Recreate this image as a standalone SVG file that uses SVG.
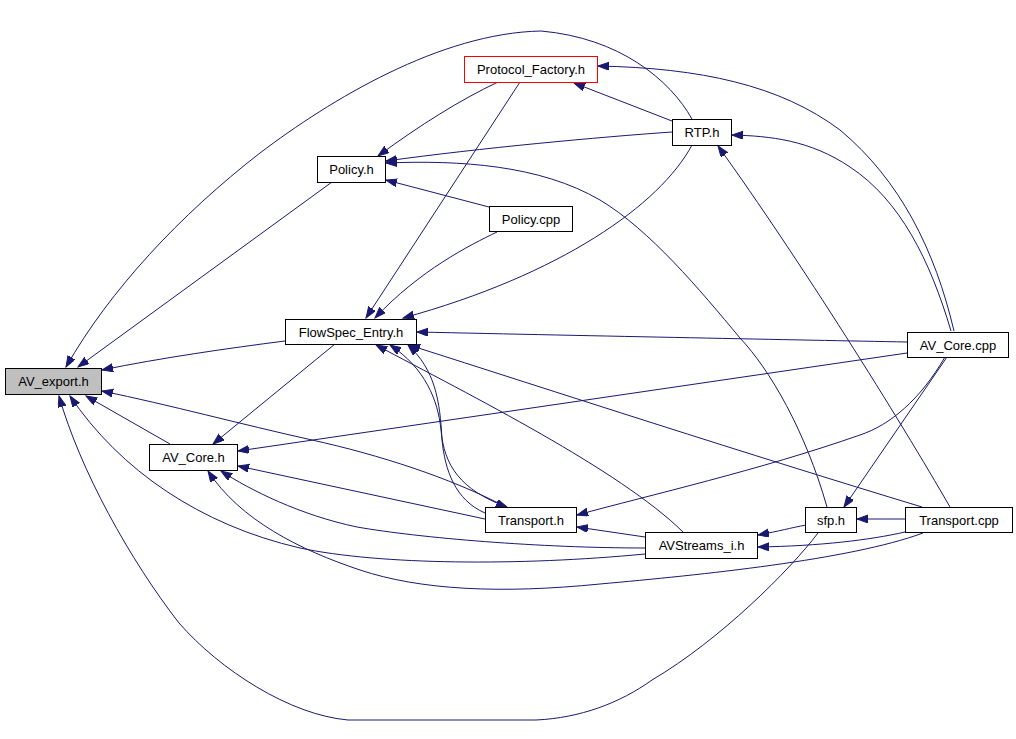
<svg xmlns="http://www.w3.org/2000/svg" width="1016" height="739" viewBox="0 0 1016 739">
<style>
.n rect{fill:#ffffff;stroke:#000000;stroke-width:1}
.n text{font-family:"Liberation Sans",Arial,sans-serif;font-size:13px;fill:#000000;text-anchor:middle}
#edges path{fill:none;stroke:#191970;stroke-width:1;marker-end:url(#a)}
</style>
<defs>
<marker id="a" markerUnits="userSpaceOnUse" markerWidth="13" markerHeight="10" refX="11" refY="4" orient="auto-start-reverse" viewBox="0 0 13 10">
<path d="M0,0 L11,4 L0,8 z" fill="#191970" stroke="#191970" stroke-width="1"/>
</marker>
</defs>
<rect x="0" y="0" width="1016" height="739" fill="#ffffff"/>
<g id="edges">
<path d="M692,119 C670,80 620,38 541,31 C440,33 330,100 260,153 C180,215 110,290 66,367"/>
<path d="M332,182 L78,367"/>
<path d="M285,341 C230,348 160,358 102,370"/>
<path d="M502,505 C450,478 380,455 312,440 C240,424 170,405 102,391"/>
<path d="M170,444 L86,396"/>
<path d="M645,554 C520,566 380,565 300,548 C200,525 120,470 70,396"/>
<path d="M818,533 C790,570 720,640 652,680 C620,703 580,718 536,720 L348,720 C290,715 220,670 179,623 C130,560 80,470 59,396"/>
<path d="M498,82 C460,100 420,125 378,156"/>
<path d="M672,132 C600,137 480,148 386,161"/>
<path d="M827,507 C805,430 770,370 740,338 C700,290 650,230 600,200 C540,165 460,160 386,163"/>
<path d="M489,207 L386,180"/>
<path d="M520,82 L366,318"/>
<path d="M497,232 C470,245 420,270 375,318"/>
<path d="M692,145 C660,205 560,275 403,318"/>
<path d="M907,342 C800,340 600,336 417,332"/>
<path d="M683,532 C620,470 470,395 376,345"/>
<path d="M390,345 C425,368 438,400 441,430 C444,465 460,490 507,507" style="marker-start:url(#a)"/>
<path d="M485,513 C455,500 445,470 442,440 C440,400 435,370 408,345"/>
<path d="M922,507 C750,455 550,390 409,345"/>
<path d="M335,344 L213,444"/>
<path d="M907,353 L238,451"/>
<path d="M485,519 L238,466"/>
<path d="M645,548 C540,548 420,538 357,527 C300,515 250,490 221,471"/>
<path d="M923,533 C850,560 700,575 600,584 C500,594 420,590 360,570 C300,550 240,520 208,471"/>
<path d="M945,357 C920,400 890,425 860,435 C760,470 650,495 577,515"/>
<path d="M645,537 L577,527"/>
<path d="M905,519 L857,519"/>
<path d="M947,357 L844,507"/>
<path d="M806,525 C790,528 780,531 758,535"/>
<path d="M905,532 C870,540 820,546 758,547"/>
<path d="M950,507 C900,420 800,260 718,146"/>
<path d="M951,331 C930,260 900,200 850,167 C810,140 770,136 732,135"/>
<path d="M954,331 C935,250 900,180 840,130 C780,85 700,68 598,66"/>
<path d="M672,121 L574,83"/>
</g>
<g id="AV_export.h" class="n"><rect x="5.5" y="368.5" width="96" height="26" style="fill:#bfbfbf"/><text x="53.5" y="386">AV_export.h</text></g>
<g id="Protocol_Factory.h" class="n"><rect x="464.5" y="56.5" width="133" height="26" style="stroke:#ff0000"/><text x="531" y="74">Protocol_Factory.h</text></g>
<g id="Policy.h" class="n"><rect x="317.5" y="156.5" width="68" height="26"/><text x="351.5" y="174">Policy.h</text></g>
<g id="RTP.h" class="n"><rect x="672.5" y="119.5" width="59" height="26"/><text x="702" y="137">RTP.h</text></g>
<g id="Policy.cpp" class="n"><rect x="489.5" y="206.5" width="83" height="25"/><text x="531" y="223.5">Policy.cpp</text></g>
<g id="FlowSpec_Entry.h" class="n"><rect x="285.5" y="319.5" width="131" height="25"/><text x="351" y="336.5">FlowSpec_Entry.h</text></g>
<g id="AV_Core.cpp" class="n"><rect x="907.5" y="332.5" width="101" height="25"/><text x="958" y="349.5">AV_Core.cpp</text></g>
<g id="AV_Core.h" class="n"><rect x="149.5" y="444.5" width="88" height="26"/><text x="193.5" y="462">AV_Core.h</text></g>
<g id="Transport.h" class="n"><rect x="485.5" y="507.5" width="91" height="25"/><text x="531" y="524.5">Transport.h</text></g>
<g id="AVStreams_i.h" class="n"><rect x="645.5" y="532.5" width="112" height="26"/><text x="701.5" y="550">AVStreams_i.h</text></g>
<g id="sfp.h" class="n"><rect x="805.5" y="507.5" width="51" height="25"/><text x="831" y="524.5">sfp.h</text></g>
<g id="Transport.cpp" class="n"><rect x="905.5" y="507.5" width="107" height="25"/><text x="959" y="524.5">Transport.cpp</text></g>
</svg>
